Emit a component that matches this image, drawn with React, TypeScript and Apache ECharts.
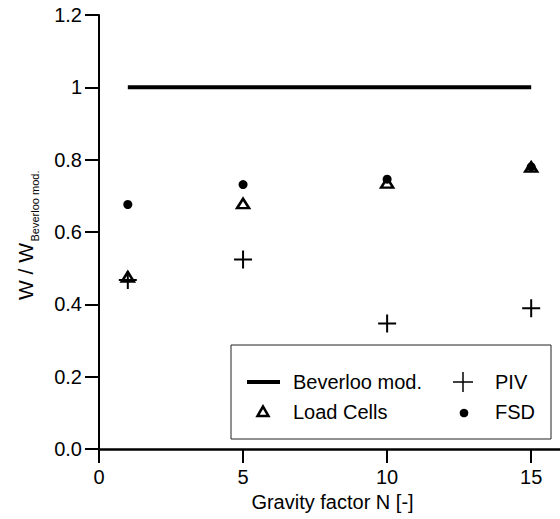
import React, { useEffect, useRef } from "react";
import * as echarts from "echarts";

const gravityFactors = [1, 5, 10, 15];
const loadCells = [0.476, 0.679, 0.736, 0.78];
const piv = [0.467, 0.524, 0.347, 0.389];
const fsd = [0.676, 0.731, 0.746, 0.78];
const beverlooX = [1, 15];
const beverlooY = [1, 1];
const xTickValues = [0, 5, 10, 15];

const FONT = "'Liberation Sans', Arial, sans-serif";
const CROSS = "path://M8,0h2v18h-2z M0,8h18v2h-18z";

export default function App() {
  const ref = useRef<HTMLDivElement>(null);
  useEffect(() => {
    if (!ref.current) return;
    const chart = echarts.init(ref.current, undefined, { renderer: "svg" });
    const pairs = (ys: number[], xs: number[] = gravityFactors) => xs.map((x, i) => [x, ys[i]]);
    chart.setOption({
      animation: false,
      backgroundColor: "#fff",
      grid: { left: 99, right: 0, top: 15, bottom: 70 },
      xAxis: {
        type: "value",
        min: 0,
        max: 16,
        interval: 5,
        name: "Gravity factor N [-]",
        nameLocation: "middle",
        nameGap: 40,
        nameTextStyle: { fontFamily: FONT, fontSize: 20, color: "#000", padding: [0, 0, 0, 6] },
        axisLine: { show: true, lineStyle: { color: "#000", width: 2.5 } },
        axisTick: { show: true, length: 14, lineStyle: { color: "#000", width: 2 }, customValues: xTickValues },
        axisLabel: { fontFamily: FONT, fontSize: 20, color: "#000", margin: 18, customValues: xTickValues },
        splitLine: { show: false },
      },
      yAxis: {
        type: "value",
        min: 0,
        max: 1.2,
        interval: 0.2,
        axisLine: { show: true, lineStyle: { color: "#000", width: 2 } },
        axisTick: { show: true, length: 14, lineStyle: { color: "#000", width: 2 } },
        axisLabel: {
          fontFamily: FONT,
          fontSize: 20,
          color: "#000",
          margin: 17,
          formatter: (v: number) => (Math.abs(v - 1) < 1e-9 ? "1" : v.toFixed(1)),
        },
        splitLine: { show: false },
      },
      graphic: [
        {
          type: "text",
          x: 25,
          y: 271.5,
          rotation: Math.PI / 2,
          style: { text: "W / W", fontFamily: FONT, fontSize: 21, fill: "#000", align: "center", verticalAlign: "middle" },
        },
        {
          type: "text",
          x: 35,
          y: 206,
          rotation: Math.PI / 2,
          style: { text: "Beverloo mod.", fontFamily: FONT, fontSize: 11, fill: "#000", align: "center", verticalAlign: "middle" },
        },
        {
          type: "rect",
          shape: { x: 231, y: 345, width: 320, height: 94 },
          style: { fill: "#fff", stroke: "#222", lineWidth: 1 },
          z: 10,
        },
        {
          type: "line",
          shape: { x1: 247, y1: 382, x2: 280, y2: 382 },
          style: { stroke: "#000", lineWidth: 4 },
          z: 11,
        },
        {
          type: "text",
          x: 293,
          y: 382,
          style: { text: "Beverloo mod.", fontFamily: FONT, fontSize: 20, fill: "#000", verticalAlign: "middle" },
          z: 11,
        },
        {
          type: "polygon",
          shape: { points: [[263, 406.5], [257.5, 416], [268.5, 416]] },
          style: { fill: "#fff", stroke: "#000", lineWidth: 2.5 },
          z: 11,
        },
        {
          type: "text",
          x: 293,
          y: 412,
          style: { text: "Load Cells", fontFamily: FONT, fontSize: 20, fill: "#000", verticalAlign: "middle" },
          z: 11,
        },
        {
          type: "line",
          shape: { x1: 463, y1: 372, x2: 463, y2: 392 },
          style: { stroke: "#000", lineWidth: 1.5 },
          z: 11,
        },
        {
          type: "line",
          shape: { x1: 453, y1: 382, x2: 473, y2: 382 },
          style: { stroke: "#000", lineWidth: 1.5 },
          z: 11,
        },
        {
          type: "text",
          x: 495,
          y: 382,
          style: { text: "PIV", fontFamily: FONT, fontSize: 20, fill: "#000", verticalAlign: "middle" },
          z: 11,
        },
        {
          type: "circle",
          shape: { cx: 464, cy: 413, r: 4.3 },
          style: { fill: "#000" },
          z: 11,
        },
        {
          type: "text",
          x: 495,
          y: 412,
          style: { text: "FSD", fontFamily: FONT, fontSize: 20, fill: "#000", verticalAlign: "middle" },
          z: 11,
        },
      ],
      series: [
        {
          name: "Beverloo mod.",
          type: "line",
          data: pairs(beverlooY, beverlooX),
          symbol: "none",
          lineStyle: { color: "#000", width: 4 },
          z: 2,
        },
        {
          name: "Load Cells",
          type: "scatter",
          data: pairs(loadCells),
          symbol: "triangle",
          symbolSize: [12, 9.5],
          itemStyle: { color: "#fff", borderColor: "#000", borderWidth: 2.5, opacity: 1 },
          z: 3,
        },
        {
          name: "PIV",
          type: "scatter",
          data: pairs(piv),
          symbol: CROSS,
          symbolSize: 18,
          itemStyle: { color: "#000", opacity: 1 },
          z: 4,
        },
        {
          name: "FSD",
          type: "scatter",
          data: pairs(fsd),
          symbol: "circle",
          symbolSize: 9,
          itemStyle: { color: "#000", opacity: 1 },
          z: 5,
        },
      ],
    });
    return () => chart.dispose();
  }, []);
  return <div ref={ref} style={{ position: "absolute", left: 0, top: 0, width: 560, height: 519 }} />;
}
